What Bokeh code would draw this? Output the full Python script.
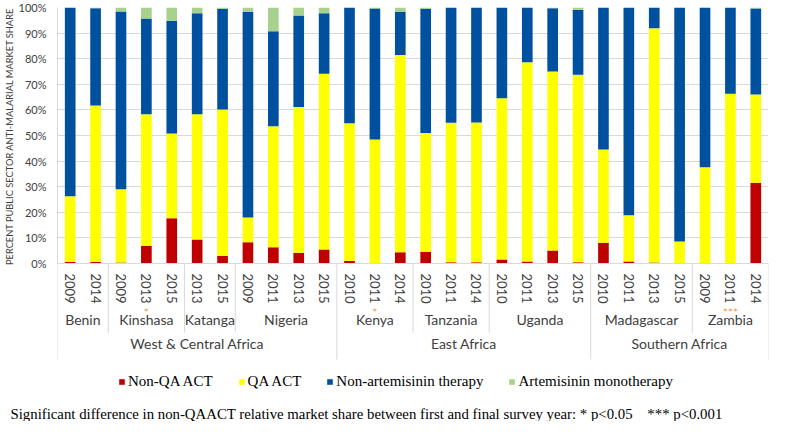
from bokeh.plotting import figure
from bokeh.models import (FactorRange, Range1d, Legend, LegendItem, Title,
                          FixedTicker, PrintfTickFormatter, ColumnDataSource)
from bokeh.core.properties import value
from bokeh.embed import file_html
from bokeh.resources import INLINE

regions = ["West & Central Africa"] * 11 + ["East Africa"] * 10 + ["Southern Africa"] * 7
countries = (["Benin"] * 2 + ["Kinshasa"] * 3 + ["Katanga"] * 2 + ["Nigeria"] * 4 +
             ["Kenya"] * 3 + ["Tanzania"] * 3 + ["Uganda"] * 4 +
             ["Madagascar"] * 4 + ["Zambia"] * 3)
years = ["2009", "2014", "2009", "2013", "2015", "2013", "2015", "2009", "2011", "2013", "2015",
         "2010", "2011", "2014", "2010", "2011", "2014", "2010", "2011", "2013", "2015",
         "2010", "2011", "2013", "2015", "2009", "2011", "2014"]

non_qa_act = [0.6, 0.6, 0.4, 6.8, 17.7, 9.4, 2.9, 8.3, 6.3, 4.2, 5.5,
              1.0, 0.0, 4.4, 4.6, 0.5, 0.5, 1.6, 0.8, 5.1, 0.5,
              8.1, 0.8, 0.4, 0.0, 0.2, 0.0, 31.5]
qa_act = [25.7, 61.1, 28.6, 51.5, 33.1, 48.9, 57.3, 9.7, 47.3, 56.9, 68.6,
          53.8, 48.4, 77.0, 46.4, 54.5, 54.6, 62.9, 77.8, 69.9, 73.2,
          36.4, 18.0, 91.5, 8.6, 37.4, 66.3, 34.5]
non_artemisinin = [73.7, 38.0, 69.4, 37.4, 44.0, 39.5, 39.3, 80.3, 37.1, 35.8, 23.7,
                   45.2, 51.2, 16.9, 48.5, 45.0, 44.9, 35.5, 21.4, 24.7, 25.4,
                   55.5, 81.2, 8.1, 91.4, 62.4, 33.7, 33.6]
art_mono = [0.0, 0.3, 1.6, 4.3, 5.2, 2.2, 0.5, 1.7, 9.3, 3.1, 2.2,
            0.0, 0.4, 1.7, 0.5, 0.0, 0.0, 0.0, 0.0, 0.3, 0.9,
            0.0, 0.0, 0.0, 0.0, 0.0, 0.0, 0.4]

series = ["non_qa_act", "qa_act", "non_artemisinin", "art_mono"]
series_labels = ["Non-QA ACT", "QA ACT", "Non-artemisinin therapy", "Artemisinin monotherapy"]
colors = ["#C00000", "#FFFF00", "#0050A0", "#A9D18E"]
y_ticks = list(range(0, 101, 10))
y_title = "PERCENT PUBLIC SECTOR ANTI-MALARIAL MARKET SHARE"

sig_factors = [("West & Central Africa", "Kinshasa", "2013"),
               ("East Africa", "Kenya", "2011"),
               ("Southern Africa", "Zambia", "2011")]
sig_marks = ["*", "*", "***"]
footnote = ("Significant difference in non-QAACT relative market share between "
            "first and final survey year: * p<0.05\u00a0\u00a0\u00a0\u00a0*** p<0.001")

factors = list(zip(regions, countries, years))
source = ColumnDataSource(dict(x=factors, non_qa_act=non_qa_act, qa_act=qa_act,
                               non_artemisinin=non_artemisinin, art_mono=art_mono))

FONT = "Lato"
SERIF = "Liberation Serif"
TXT = "#404040"
GRID = "#D9D9D9"
ORANGE = "#F79646"
Y_MIN = -54.7   # room inside the frame for the category axis and the legend

p = figure(width=769, height=421, output_backend="svg", toolbar_location=None,
           x_range=FactorRange(*factors, factor_padding=0, subgroup_padding=0,
                               group_padding=0, range_padding=0),
           y_range=Range1d(Y_MIN, 100),
           min_border_top=7, min_border_left=0, min_border_right=1,
           min_border_bottom=0)

renderers = p.vbar_stack(series, x="x", width=0.42, color=colors, source=source,
                         line_color=None)

p.outline_line_color = None
p.background_fill_color = "white"
p.xgrid.grid_line_color = None
p.ygrid.grid_line_color = GRID
p.ygrid.ticker = FixedTicker(ticks=y_ticks)

ya = p.yaxis[0]
ya.ticker = FixedTicker(ticks=y_ticks)
ya.bounds = (0, 100)
ya.formatter = PrintfTickFormatter(format="%d%%")
ya.axis_line_color = GRID
ya.major_tick_line_color = None
ya.minor_tick_line_color = None
ya.major_label_text_font = FONT
ya.major_label_text_font_size = "11px"
ya.major_label_text_color = TXT
ya.major_label_standoff = 5

# the y title sits against the 0-100% part of the frame only
p.add_layout(Title(text=y_title, align="right", standoff=2, text_font=FONT,
                   text_font_size="9.3px", text_font_style="normal", text_color=TXT), "left")

xa = p.xaxis[0]
xa.fixed_location = 0
xa.axis_line_color = GRID
xa.major_tick_line_color = None
xa.minor_tick_line_color = None
xa.major_label_orientation = "vertical"
xa.major_label_standoff = 4
xa.major_label_text_font = FONT
xa.major_label_text_font_size = "13px"
xa.major_label_text_color = TXT
xa.subgroup_text_font = FONT
xa.subgroup_text_font_size = "14px"
xa.subgroup_text_font_style = "normal"
xa.subgroup_text_color = TXT
xa.group_text_font = FONT
xa.group_text_font_size = "14px"
xa.group_text_font_style = "normal"
xa.group_text_color = TXT
xa.separator_line_color = None

# separators between countries / regions, at the boundaries of the factor groups
bounds_c, bounds_r = [], []
for i in range(1, len(factors)):
    if regions[i] != regions[i - 1]:
        bounds_r.append(i)
    elif countries[i] != countries[i - 1]:
        bounds_c.append(i)
edges = [0] + bounds_r + [len(factors)]
sep = ColumnDataSource(dict(
    x0=[float(b) for b in bounds_c] + [float(b) for b in edges],
    y0=[0.0] * (len(bounds_c) + len(edges)),
    y1=[-27.0] * len(bounds_c) + [-37.5] * len(edges)))
p.segment(x0="x0", y0="y0", x1="x0", y1="y1", source=sep, line_color=GRID, line_width=1)

# significance markers between the year labels and the country names
p.text(x=sig_factors, y=[-19.3] * len(sig_factors), text=sig_marks,
       text_color=ORANGE, text_font=value(FONT), text_font_size="12px",
       text_align="center", text_baseline="middle")

legend = Legend(items=[LegendItem(label=l, renderers=[r]) for l, r in zip(series_labels, renderers)],
                orientation="horizontal", location=(61, 13),
                label_text_font=SERIF, label_text_font_size="15px",
                label_text_color="#000000", glyph_width=7, glyph_height=7,
                label_standoff=3, spacing=25, border_line_color=None,
                background_fill_alpha=0, padding=2, margin=0)
p.add_layout(legend)

p.add_layout(Title(text=footnote, align="left", offset=-47, standoff=0,
                   text_font=SERIF, text_font_size="14.8px", text_font_style="normal",
                   text_color="#000000"), "below")

open("out.html", "w").write(file_html(p, INLINE))
